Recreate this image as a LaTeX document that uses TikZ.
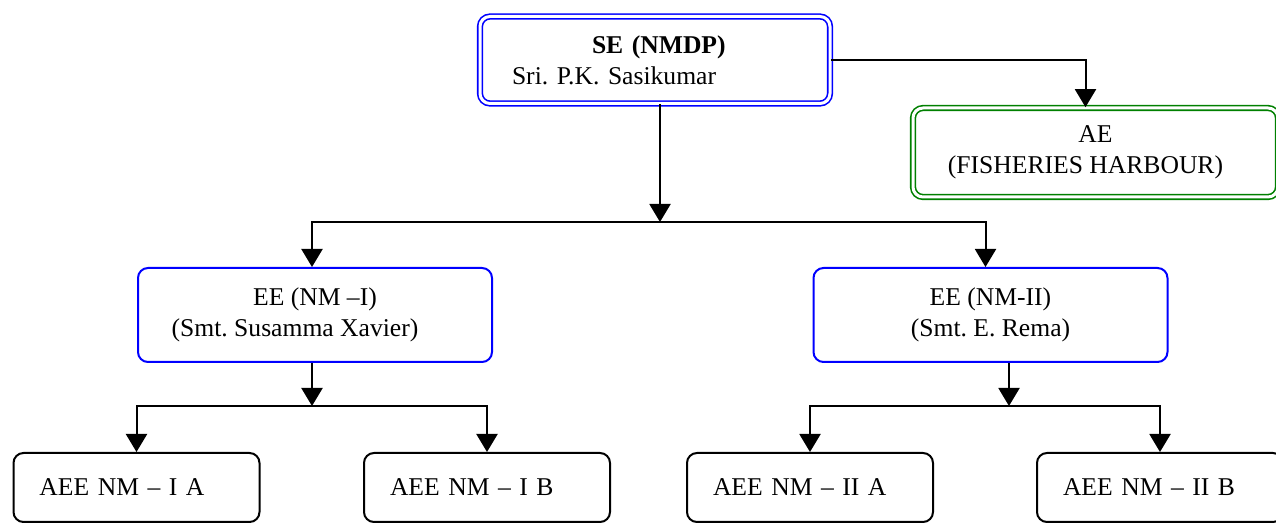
\documentclass[tikz,border=0pt]{standalone}
\usepackage{fontspec}
\setmainfont{Liberation Serif}
\usetikzlibrary{arrows.meta,positioning}

\definecolor{boxblue}{RGB}{0,0,255}
\definecolor{boxgreen}{RGB}{0,128,0}

\begin{document}
\frenchspacing
\begin{tikzpicture}[x=0.5pt, y=-0.5pt,
    every node/.style={font=\fontsize{12.8}{15.5}\selectfont},
    head box/.style={draw=boxblue, double, double distance=1.5pt, line width=0.8pt,
        rounded corners=5pt, minimum height=43.5pt},
    ae box/.style={draw=boxgreen, double, double distance=1.5pt, line width=0.8pt,
        rounded corners=5pt, minimum width=182.5pt, minimum height=44.5pt, align=center},
    ee box/.style={draw=boxblue, line width=1pt, rounded corners=5pt,
        minimum width=177pt, minimum height=47pt, align=center},
    aee box/.style={draw=black, line width=1pt, rounded corners=5pt,
        text width=97pt, inner xsep=13pt, minimum height=34.5pt, align=left},
    link/.style={draw=black, line width=1pt, -{Triangle[length=9pt, width=10.5pt]}},]
    \useasboundingbox (0,0) rectangle (1276,529);

    % top level
    \node[head box, text width=143pt, inner xsep=16pt, align=left] (se) at (655,60)
        {\hspace*{40pt}\textbf{SE (NMDP)}\\Sri. P.K. Sasikumar};
    \node[ae box] (ae) at (1095.5,152.5) {AE\\(FISHERIES HARBOUR)\hspace*{10pt}};

    % executive engineers
    \node[ee box] (ee1) at (315,315) {EE (NM –I)\\(Smt. Susamma Xavier)\hspace*{20pt}};
    \node[ee box] (ee2) at (990.5,315) {EE (NM-II)\\(Smt. E. Rema)};

    % assistant executive engineers
    \node[aee box] (aee1a) at (136.5,487.5) {AEE NM – I A};
    \node[aee box] (aee1b) at (487,487.5) {AEE NM – I B};
    \node[aee box] (aee2a) at (810,487.5) {AEE NM – II A};
    \node[aee box] (aee2b) at (1160,487.5) {AEE NM – II B};

    \coordinate (top split) at (660,222);
    \coordinate (ee1 split) at (312,406);
    \coordinate (ee2 split) at (1009,406);

    \draw[link] (se.east) -| ([xshift=-5pt]ae.north);
    \draw[link] (top split |- se.south) -- (top split);
    \draw[link] (top split) -| ([xshift=-1.5pt]ee1.north);
    \draw[link] (top split) -| ([xshift=-2.5pt]ee2.north);

    \draw[link] (ee1 split |- ee1.south) -- (ee1 split);
    \draw[link] (ee1 split) -| (aee1a.north);
    \draw[link] (ee1 split) -| (aee1b.north);

    \draw[link] (ee2 split |- ee2.south) -- (ee2 split);
    \draw[link] (ee2 split) -| (aee2a.north);
    \draw[link] (ee2 split) -| (aee2b.north);

\end{tikzpicture}
\end{document}
